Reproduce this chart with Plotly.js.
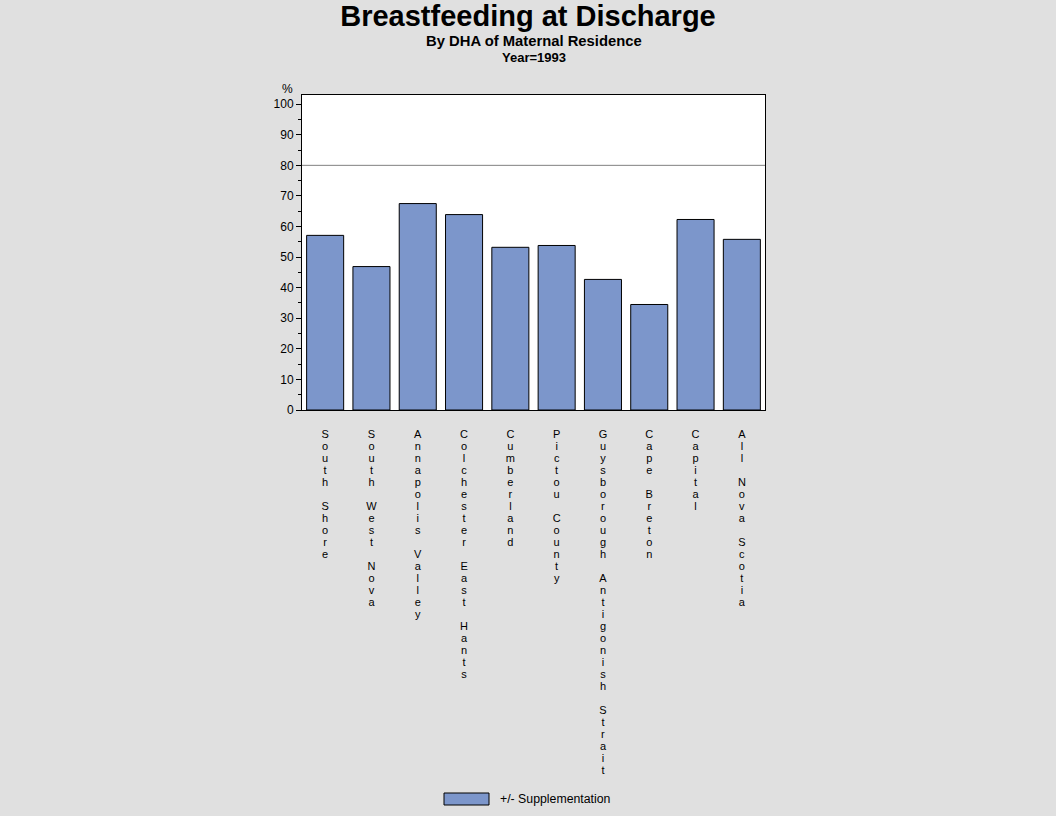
<!DOCTYPE html>
<html>
<head>
<meta charset="utf-8">
<script src="https://cdn.plot.ly/plotly-3.0.1.min.js"></script>
<style>
  html, body { margin: 0; padding: 0; background: #e0e0e0; }
  #chart { width: 1056px; height: 816px; }
</style>
</head>
<body>
<div id="chart"></div>
<script>
// DHA regions (x categories)
const regions = [
    "South Shore", "South West Nova", "Annapolis Valley", "Colchester East Hants",
    "Cumberland", "Pictou County", "Guysborough Antigonish Strait", "Cape Breton",
    "Capital", "All Nova Scotia"
];
// % breastfeeding at discharge, +/- supplementation, 1993
const pctBreastfed = [57.1, 46.9, 67.5, 63.9, 53.2, 53.8, 42.7, 34.5, 62.3, 55.8];
const targetLine = 80;
const seriesName = "+/- Supplementation";

const barColor = "#7c96cb";
const font = "Liberation Sans, Arial, sans-serif";

// SAS style stacked labels: one letter per line
const stacked = regions.map(r => r.split("").map(c => c === " " ? "&nbsp;" : c).join("<br>"));

const trace = {
    type: "bar",
    x: regions,
    y: pctBreastfed,
    name: seriesName,
    marker: { color: barColor, line: { color: "#000", width: 1 } },
    hoverinfo: "x+y",
    showlegend: false
};

const layout = {
    width: 1056,
    height: 816,
    paper_bgcolor: "#e0e0e0",
    plot_bgcolor: "#fff",
    margin: { l: 302, r: 291, t: 95, b: 406 },
    font: { family: font, color: "#000", size: 12 },
    bargap: 0.2,
    title: {
        text: "Breastfeeding at Discharge",
        font: { family: font, size: 29, weight: "bold", color: "#000" },
        x: 0.5, xanchor: "center",
        yref: "container", y: 0.981, yanchor: "middle"
    },
    xaxis: {
        type: "category",
        tickvals: regions,
        ticktext: stacked,
        tickangle: 0,
        tickfont: { family: font, size: 11, color: "#000" },
        ticks: "",
        ticklabelstandoff: 14,
        showgrid: false,
        zeroline: false,
        showline: true, linecolor: "#000", linewidth: 1, mirror: true,
        range: [-0.5, regions.length - 0.5],
        fixedrange: true
    },
    yaxis: {
        range: [0, 103],
        tickvals: [0, 10, 20, 30, 40, 50, 60, 70, 80, 90, 100],
        ticks: "outside", ticklen: 5, tickcolor: "#000",
        minor: { dtick: 5, tick0: 0, ticks: "outside", ticklen: 3, tickcolor: "#000" },
        tickfont: { family: font, size: 12, color: "#000" },
        showgrid: false,
        zeroline: false,
        showline: true, linecolor: "#000", linewidth: 1, mirror: true,
        fixedrange: true
    },
    shapes: [
        { type: "line", xref: "paper", x0: 0, x1: 1, yref: "y", y0: targetLine, y1: targetLine,
          line: { color: "#808080", width: 1 } },
        // legend swatch
        { type: "rect", xref: "paper", yref: "paper", x0: 0.3067, x1: 0.4039, y0: -1.254, y1: -1.2159,
          fillcolor: barColor, line: { color: "#000", width: 1 } }
    ],
    annotations: [
        { text: "<b>By DHA of Maternal Residence</b>", xref: "paper", yref: "paper",
          x: 0.5, y: 1.1715, xanchor: "center", yanchor: "middle", showarrow: false,
          font: { family: font, size: 14.8, color: "#000" } },
        { text: "<b>Year=1993</b>", xref: "paper", yref: "paper",
          x: 0.5, y: 1.1206, xanchor: "center", yanchor: "middle", showarrow: false,
          font: { family: font, size: 13, color: "#000" } },
        { text: "%", xref: "paper", yref: "paper", x: -0.032, y: 1.019,
          xanchor: "center", yanchor: "middle", showarrow: false,
          font: { family: font, size: 12, color: "#000" } },
        { text: seriesName, xref: "paper", yref: "paper", x: 0.4233, y: -1.235,
          xanchor: "left", yanchor: "middle", showarrow: false,
          font: { family: font, size: 12.3, color: "#000" } }
    ]
};

// plotly line spacing is 1.3em, the SAS labels are packed tighter (~12px per letter)
function tightenLabels() {
    const k = 12.0 / (1.3 * 11);
    document.querySelectorAll("#chart .xtick text tspan.line").forEach(t => {
        const dy = t.getAttribute("dy");
        if (dy && dy.endsWith("em") && !t.dataset.tight) {
            t.setAttribute("dy", (parseFloat(dy) * k) + "em");
            t.dataset.tight = "1";
        }
    });
}

Plotly.newPlot("chart", [trace], layout, { displayModeBar: false, staticPlot: true })
    .then(gd => {
        tightenLabels();
        gd.on("plotly_afterplot", tightenLabels);
    });
</script>
</body>
</html>
